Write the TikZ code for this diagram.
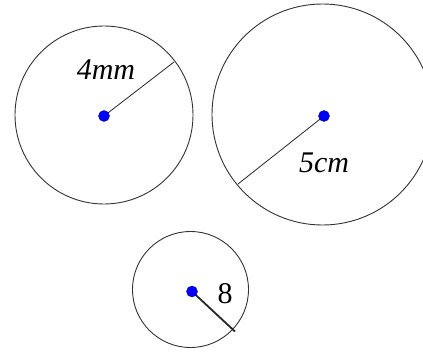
\documentclass[tikz,border=0pt]{standalone}
\usepackage{fontspec}
\setmainfont{Liberation Serif}
\begin{document}
\begin{tikzpicture}[x=1pt,y=-1pt,
  ring/.style={draw=black!80, line width=0.9pt, circle, inner sep=0pt},
  dot/.style={circle, fill=blue, draw=blue!55!black, line width=0.4pt, minimum size=11pt, inner sep=0pt},
  rad/.style={draw=black!85, line width=0.8pt},
  lab/.style={font=\fontsize{30}{30}\selectfont, anchor=base, inner sep=0pt}]
\path[use as bounding box, clip] (0,0) rectangle (423,353);
\fill[white] (0,0) rectangle (423,353);
% circles
\node[ring, minimum size=178pt] (C1) at (104,115) {};
\node[ring, minimum size=221pt] (C2) at (322.5,114.5) {};
\node[ring, minimum size=116pt] (C3) at (190.5,289.5) {};
% centres and radius ends
\coordinate (p1) at (104,116);
\coordinate (p2) at (324,116);
\coordinate (p3) at (192,291.5);
\coordinate (e1) at (174,62);
\coordinate (e2) at (238,184);
\coordinate (e3) at (235,331.5);
\draw[rad] (p1) -- (e1);
\draw[rad] (p2) -- (e2);
\draw[rad, line width=1.8pt] (p3) -- (e3);
\node[dot] (d1) at (p1) {};
\node[dot] (d2) at (p2) {};
\node[dot] (d3) at (p3) {};
% labels
\node[lab] (l1) at (106,80) {\textit{4mm}};
\node[lab] (l2) at (324,172) {\textit{5cm}};
\node[lab] (l3) at (225,303) {8};
\end{tikzpicture}
\end{document}
